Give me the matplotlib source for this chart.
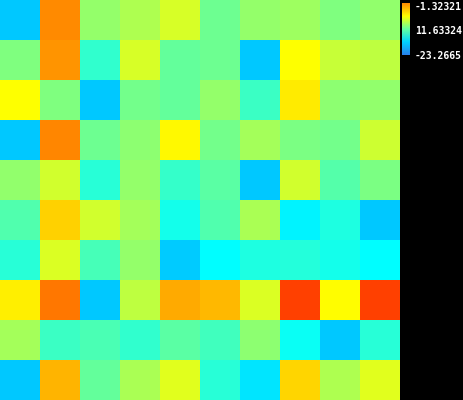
import numpy as np
import matplotlib
matplotlib.use("Agg")
import matplotlib.pyplot as plt
from matplotlib.colors import LinearSegmentedColormap

rows = [
    [-23.3, 36.0, 5.3, 8.8, 14.4, -0.2, 5.3, 6.7, 2.3, 5.0],
    [2.3, 34.6, -8.6, 14.4, -1.6, -0.2, -23.3, 20.0, 12.3, 11.0],
    [20.0, 2.3, -23.3, 0.5, -1.6, 5.3, -7.3, 22.8, 4.0, 5.0],
    [-23.3, 36.7, -0.2, 4.0, 20.7, 0.5, 7.4, 1.8, 0.5, 13.0],
    [5.0, 13.7, -10.0, 5.3, -8.0, -3.0, -23.3, 13.7, -3.7, 1.8],
    [-4.4, 26.3, 13.7, 7.4, -12.8, -4.4, 8.1, -17.0, -11.4, -23.3],
    [-10.0, 15.1, -5.8, 5.3, -22.5, -15.6, -11.4, -10.7, -12.8, -15.6],
    [22.1, 38.8, -23.3, 11.0, 31.8, 29.7, 15.1, 46.5, 20.3, 46.5],
    [7.4, -7.3, -5.1, -8.6, -3.0, -6.5, 4.0, -14.2, -23.3, -10.0],
    [-23.3, 30.4, -1.6, 8.1, 15.8, -10.0, -19.1, 25.6, 8.8, 15.8],
]
vmin = -23.2665
vmax = 46.5332
tick_labels = ["-1.32321", "11.63324", "-23.2665"]

data = np.array(rows)

cmap = LinearSegmentedColormap.from_list(
    "c",
    [(0.0, (0/255, 200/255, 255/255)),
     (0.11, (0, 1, 1)),
     (0.62, (1, 1, 0)),
     (1.0, (1, 64/255, 0))],
)
bar_cmap = LinearSegmentedColormap.from_list(
    "b",
    [(0.0, (40/255, 130/255, 235/255)),
     (0.25, (0, 210/255, 1)),
     (0.5, (100/255, 1, 160/255)),
     (0.75, (1, 1, 0)),
     (1.0, (1, 140/255, 0))],
)

W, H = 463, 400
fig = plt.figure(figsize=(W / 100, H / 100), dpi=100, facecolor="black")
ax = fig.add_axes([0, 0, 400 / W, 1])
ax.imshow(data, cmap=cmap, vmin=vmin, vmax=vmax, interpolation="nearest", aspect="auto")
ax.set_axis_off()

cax = fig.add_axes([402 / W, (H - 55) / H, 8 / W, 52 / H])
grad = np.linspace(1, 0, 100).reshape(-1, 1)
cax.imshow(grad, cmap=bar_cmap, vmin=0, vmax=1, aspect="auto", interpolation="bilinear")
cax.set_axis_off()

ys = [7, 31, 56]
for lab, y in zip(tick_labels, ys):
    fig.text(415 / W, 1 - y / H, lab, color="white", fontsize=7, family="DejaVu Sans Mono",
             fontweight="bold", va="center", ha="left")

fig.savefig("out.png", dpi=100, facecolor="black")
